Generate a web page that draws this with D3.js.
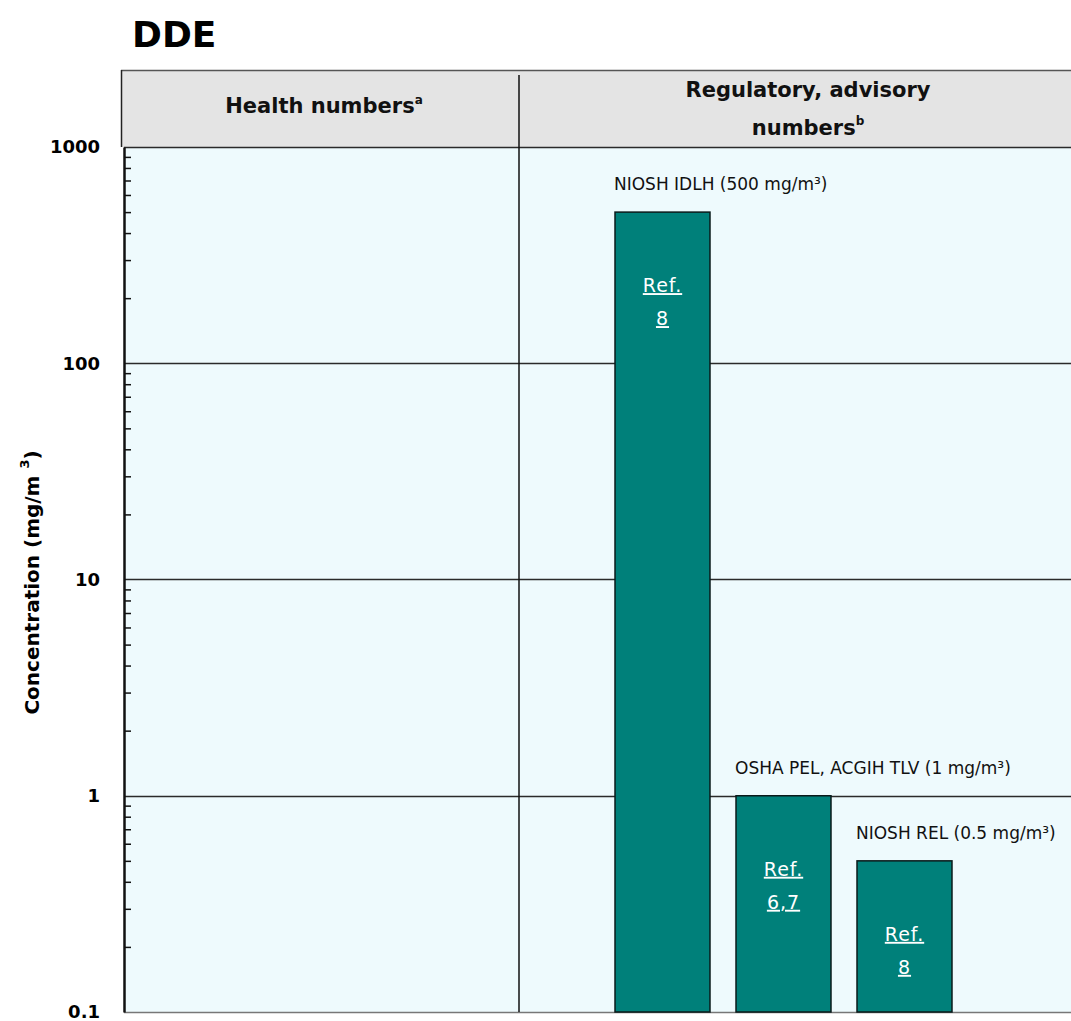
<!DOCTYPE html>
<html>
<head>
<meta charset="utf-8">
<script src="https://cdn.jsdelivr.net/npm/d3@7"></script>
<style>
  html, body { margin: 0; padding: 0; background: #ffffff; }
  svg { display: block; }
  text { font-family: "DejaVu Sans", Verdana, sans-serif; }
</style>
</head>
<body>
<svg id="chart" width="1071" height="1021"></svg>
<script>
// DDE exposure limits, log concentration scale
const chartTitle = "DDE";
const panelTitles = ["Health numbers", "Regulatory, advisory numbers"];
const panelNotes = ["a", "b"];
const categories = ["NIOSH IDLH", "OSHA PEL, ACGIH TLV", "NIOSH REL"];
const values = [500, 1, 0.5];            // mg/m³
const refLabels = ["8", "6,7", "8"];
const majorTicks = [0.1, 1, 10, 100, 1000];
const majorTickLabels = ["0.1", "1", "10", "100", "1000"];
const yTitle = "Concentration (mg/m";

const svg = d3.select("#chart");
const W = 1071;

const plot = { left: 124, right: 1071, top: 147, bottom: 1012 };
const header = { left: 121, top: 70, bottom: 147 };
const divX = 519;

const y = d3.scaleLog().domain([0.1, 1000]).range([plot.bottom, plot.top]);
const x = d3.scaleBand()
  .domain(categories)
  .range([602, 965])
  .paddingInner(0.215)
  .paddingOuter(0.1075);

// title
svg.append("text")
  .attr("x", 132).attr("y", 47)
  .attr("font-size", 36).attr("font-weight", "bold")
  .attr("fill", "#000")
  .text(chartTitle);

// header band
svg.append("rect")
  .attr("x", header.left).attr("y", header.top)
  .attr("width", W - header.left).attr("height", header.bottom - header.top)
  .attr("fill", "#e4e4e4");
svg.append("line")
  .attr("x1", header.left).attr("x2", W)
  .attr("y1", header.top + 0.5).attr("y2", header.top + 0.5)
  .attr("stroke", "#555").attr("stroke-width", 1.5);
svg.append("line")
  .attr("x1", header.left + 0.5).attr("x2", header.left + 0.5)
  .attr("y1", header.top).attr("y2", header.bottom)
  .attr("stroke", "#222").attr("stroke-width", 1.5);

// plot background
svg.append("rect")
  .attr("x", plot.left).attr("y", plot.top)
  .attr("width", plot.right - plot.left).attr("height", plot.bottom - plot.top)
  .attr("fill", "#eefafd");

// major gridlines
svg.append("g")
  .selectAll("line")
  .data(majorTicks.filter(d => d > 0.1))
  .join("line")
  .attr("x1", plot.left).attr("x2", plot.right)
  .attr("y1", d => Math.round(y(d)) + 0.5).attr("y2", d => Math.round(y(d)) + 0.5)
  .attr("stroke", "#2a2a2a").attr("stroke-width", 1.5);

// bottom edge
svg.append("line")
  .attr("x1", plot.left).attr("x2", plot.right)
  .attr("y1", plot.bottom + 0.5).attr("y2", plot.bottom + 0.5)
  .attr("stroke", "#777").attr("stroke-width", 1.5);

// panel divider
svg.append("line")
  .attr("x1", divX).attr("x2", divX)
  .attr("y1", 75).attr("y2", plot.bottom)
  .attr("stroke", "#111").attr("stroke-width", 1.5);

// panel headings
const h1 = svg.append("text")
  .attr("x", (header.left + divX) / 2 + 4).attr("y", 113)
  .attr("text-anchor", "middle")
  .attr("font-size", 21).attr("font-weight", "bold").attr("fill", "#111");
h1.append("tspan").text(panelTitles[0]);
h1.append("tspan").attr("font-size", 12).attr("dy", -9).text(panelNotes[0]);

const [t2a, t2b] = ["Regulatory, advisory", "numbers"];
const h2 = svg.append("text")
  .attr("text-anchor", "middle")
  .attr("font-size", 21).attr("font-weight", "bold").attr("fill", "#111");
h2.append("tspan").attr("x", 808).attr("y", 97).text(t2a);
h2.append("tspan").attr("x", 808).attr("y", 135).text(t2b);
h2.append("tspan").attr("font-size", 12).attr("dy", -10).text(panelNotes[1]);

// bars
const bars = svg.append("g");
bars.selectAll("rect")
  .data(categories)
  .join("rect")
  .attr("x", d => x(d))
  .attr("y", (d, i) => y(values[i]))
  .attr("width", x.bandwidth())
  .attr("height", (d, i) => plot.bottom - y(values[i]))
  .attr("fill", "#00807a")
  .attr("stroke", "#0a1a1a").attr("stroke-width", 1.5);

// value labels above bars
svg.append("g")
  .selectAll("text")
  .data(categories)
  .join("text")
  .attr("x", d => x(d) - 1)
  .attr("y", (d, i) => y(values[i]) - 22)
  .attr("font-size", 17)
  .attr("fill", "#111")
  .text((d, i) => `${d} (${values[i]} mg/m³)`);

// reference labels inside bars
const refs = svg.append("g")
  .selectAll("text")
  .data(categories)
  .join("text")
  .attr("text-anchor", "middle")
  .attr("font-size", 19)
  .attr("letter-spacing", 1)
  .attr("fill", "#ffffff")
  .attr("text-decoration", "underline");
refs.append("tspan")
  .attr("x", d => x(d) + x.bandwidth() / 2)
  .attr("y", (d, i) => y(values[i]) + 80)
  .text("Ref.");
refs.append("tspan")
  .attr("x", d => x(d) + x.bandwidth() / 2)
  .attr("y", (d, i) => y(values[i]) + 113)
  .text((d, i) => refLabels[i]);

// y axis: minor ticks inside, labels outside
const minorTicks = [];
for (let e = -1; e < 3; e++) {
  for (let k = 2; k <= 9; k++) minorTicks.push(k * Math.pow(10, e));
}
const minorAxis = svg.append("g")
  .attr("transform", `translate(${plot.left},0)`)
  .call(d3.axisRight(y).tickValues(minorTicks).tickSize(7).tickFormat(""));
minorAxis.select(".domain").remove();
minorAxis.selectAll(".tick line").attr("stroke", "#111").attr("stroke-width", 1.5);

const majorAxis = svg.append("g")
  .attr("transform", `translate(${plot.left},0)`)
  .call(d3.axisLeft(y).tickValues(majorTicks).tickSize(0).tickPadding(24)
    .tickFormat((d, i) => majorTickLabels[i]));
majorAxis.select(".domain")
  .attr("stroke", "#111").attr("stroke-width", 2.5);
majorAxis.selectAll(".tick text")
  .attr("font-family", "'DejaVu Sans', sans-serif")
  .attr("font-size", 18).attr("font-weight", "bold").attr("fill", "#000");

// y axis title
const yt = svg.append("text")
  .attr("transform", `translate(39,${(plot.top + plot.bottom) / 2 + 3}) rotate(-90)`)
  .attr("text-anchor", "middle")
  .attr("font-size", 20).attr("font-weight", "bold").attr("fill", "#000");
yt.append("tspan").text(yTitle + " ");
yt.append("tspan").attr("font-size", 13).attr("dy", -10).text("3");
yt.append("tspan").attr("dy", 10).text(")");
</script>
</body>
</html>
